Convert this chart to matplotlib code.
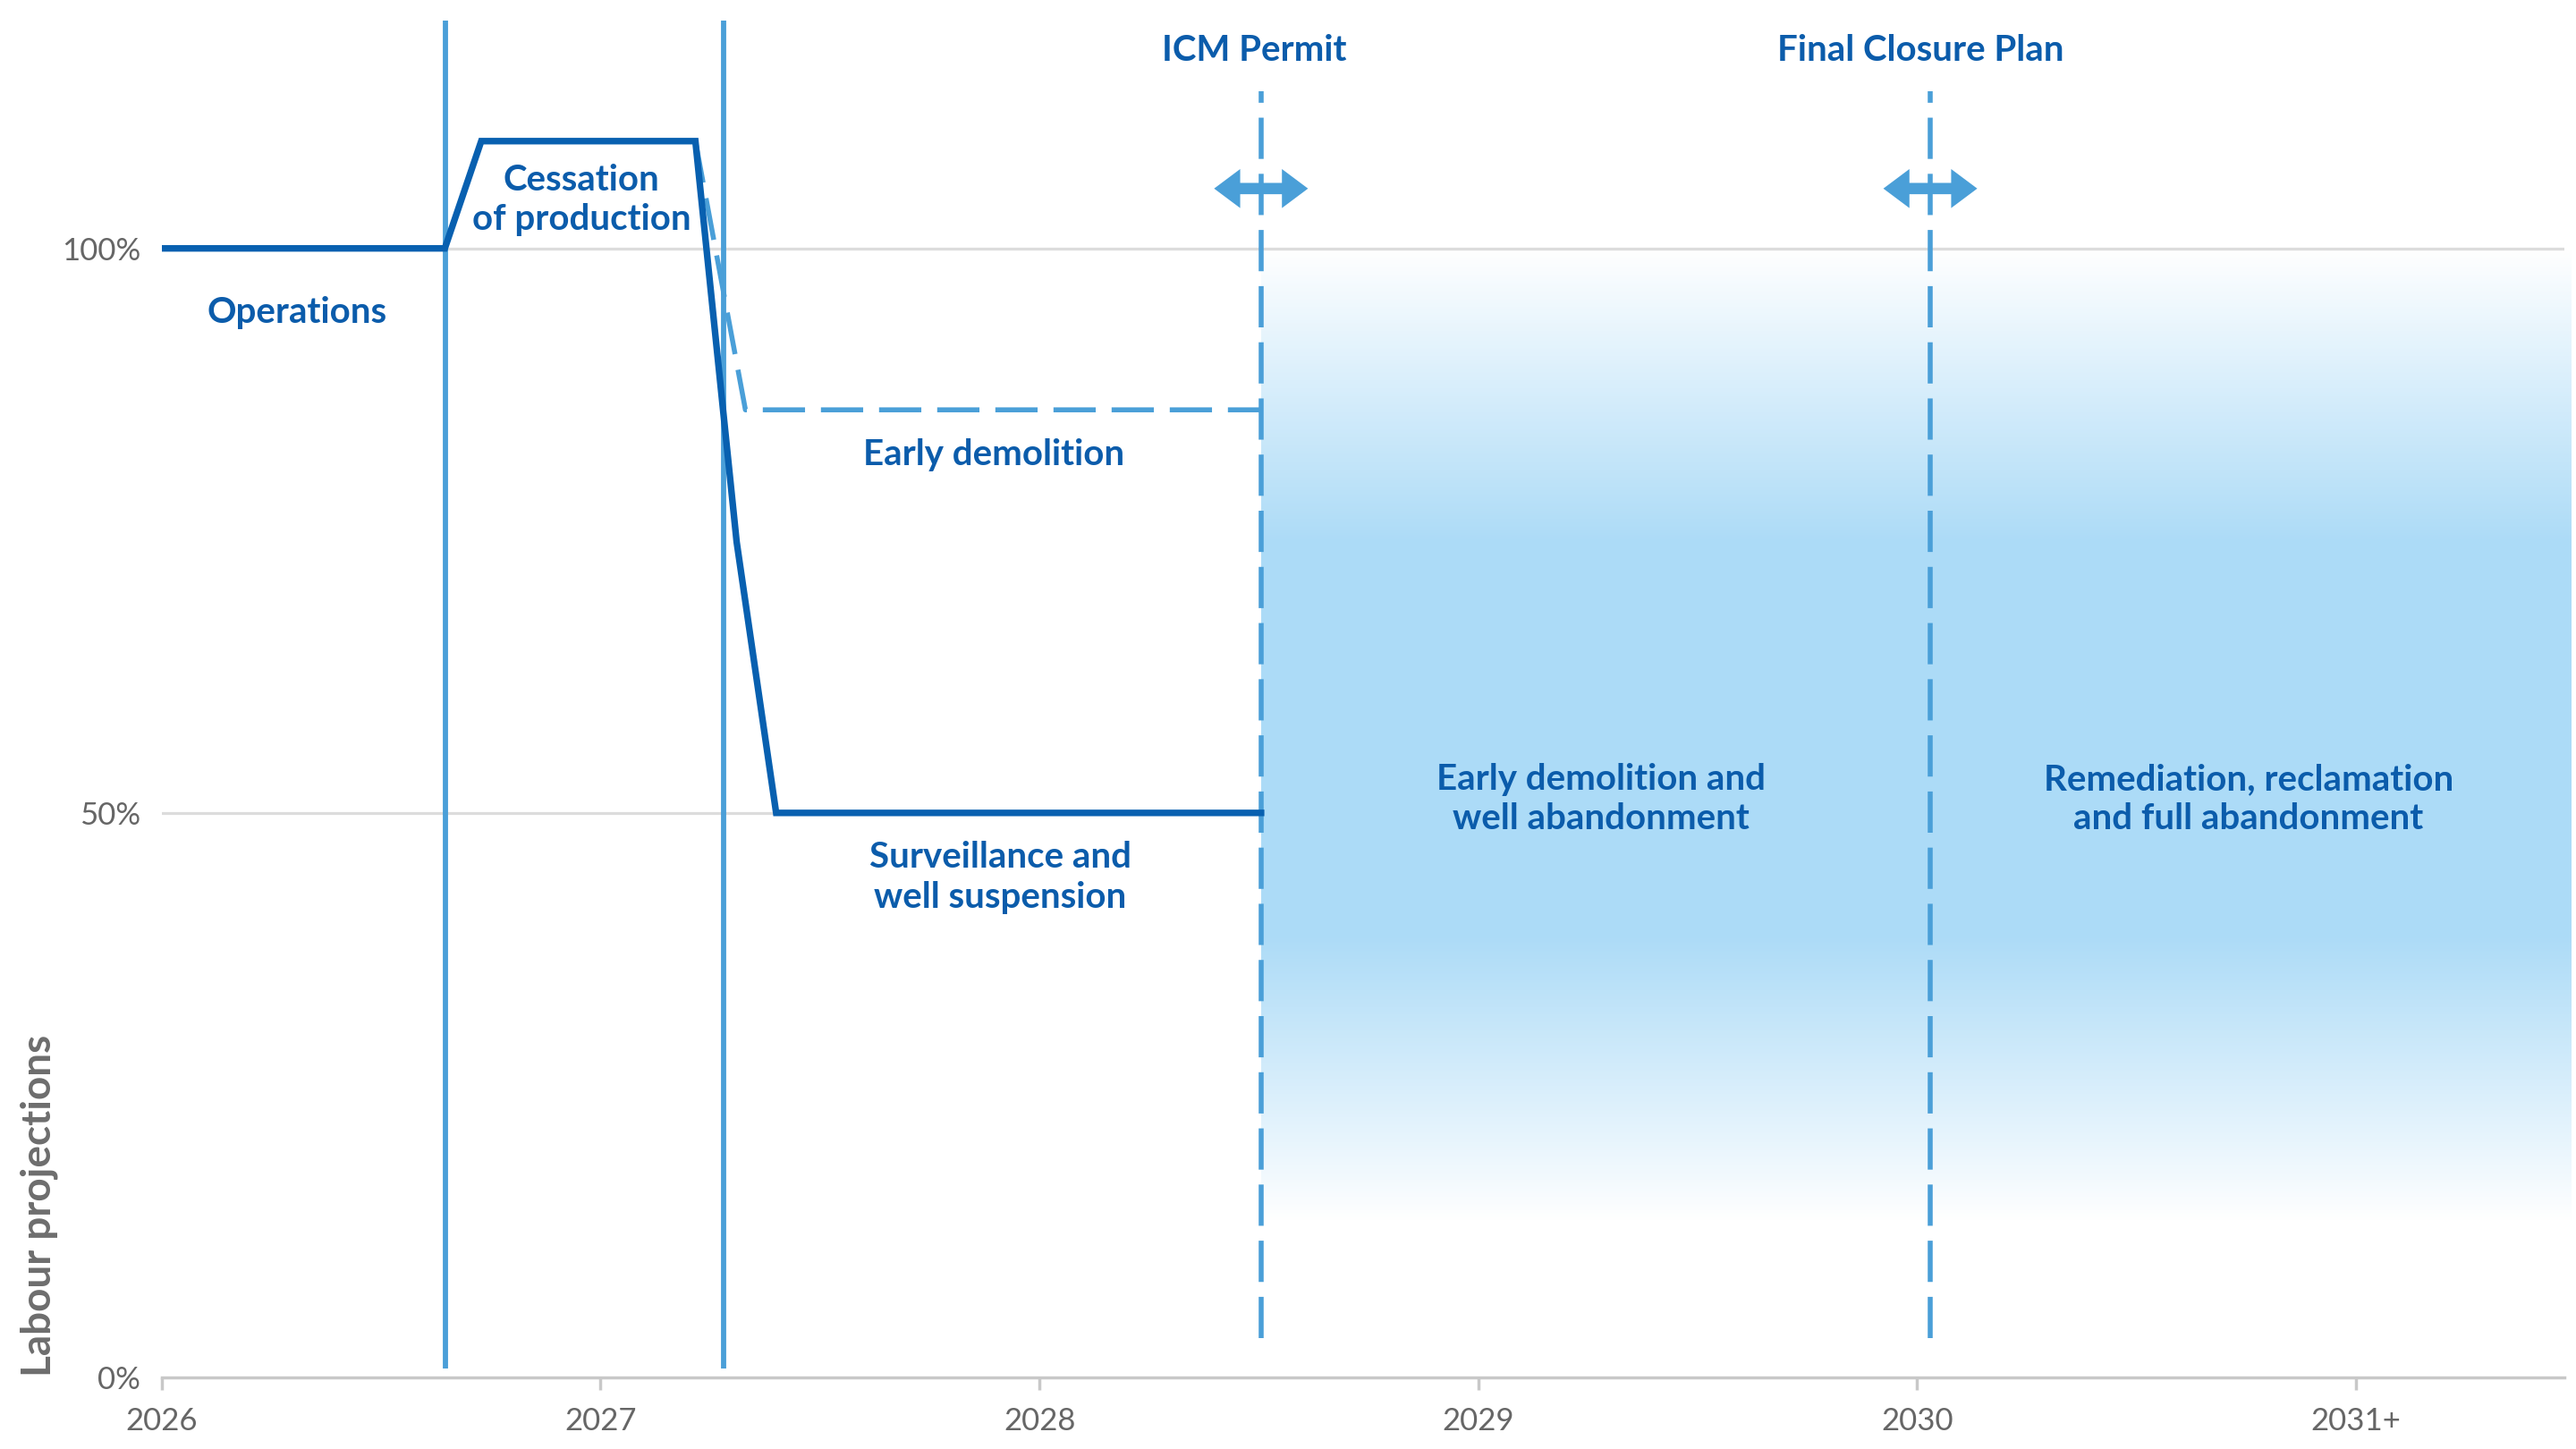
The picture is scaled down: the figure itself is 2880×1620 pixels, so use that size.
import numpy as np
import matplotlib
matplotlib.use('Agg')
import matplotlib.pyplot as plt
from matplotlib.patches import FancyArrowPatch

# data (x = years, y = % of labour)
main_x = [2026.0, 2026.645, 2026.728, 2027.216, 2027.31, 2027.40, 2028.505]
main_y = [100, 100, 109.5, 109.5, 74, 50, 50]
early_x = [2027.216, 2027.33, 2028.505]
early_y = [109.5, 85.7, 85.7]
phase_lines = [2026.647, 2027.28]
milestone_x = [2028.505, 2030.03]
milestone_names = ['ICM Permit', 'Final Closure Plan']
milestone_label_x = [2028.49, 2030.007]
year_ticks = [2026, 2027, 2028, 2029, 2030, 2031]
year_labels = ['2026', '2027', '2028', '2029', '2030', '2031+']
pct_ticks = [0, 50, 100]
pct_labels = ['0%', '50%', '100%']

labels = [
    ('Operations', 2026.309, 94.3),
    ('Cessation\nof production', 2026.956, 104.3),
    ('Early demolition', 2027.896, 81.7),
    ('Surveillance and\nwell suspension', 2027.911, 44.3),
    ('Early demolition and\nwell abandonment', 2029.28, 51.2),
    ('Remediation, reclamation\nand full abandonment', 2030.755, 51.2),
]

# shaded band
band_x = [2028.505, 2031.49]
band_stops_y = [13.7, 39, 74, 100]
band_stops_a = [0, 1, 1, 0]

dark_blue = '#0860b0'
text_blue = '#0b5cab'
light_blue = '#4a9fd8'
band_rgb = (0.675, 0.859, 0.969)
grey = '#666666'

fig = plt.figure(figsize=(28.8, 16.2), dpi=100)
ax = fig.add_axes([0.0628, 0.0494, 0.9327, 0.9506])
ax.set_xlim(2026, 2031.475)
ax.set_ylim(0, 122)

# gridlines
for g in [50, 100]:
    ax.axhline(g, color='#dcdcdc', lw=2.3, zorder=1)

# gradient band
ys = np.linspace(band_stops_y[0], band_stops_y[-1], 400)
alpha = np.interp(ys, band_stops_y, band_stops_a)
img = np.zeros((len(ys), 1, 4))
img[:, 0, :3] = band_rgb
img[:, 0, 3] = alpha
ax.imshow(img[::-1], extent=[band_x[0], band_x[1], band_stops_y[0], band_stops_y[-1]],
          aspect='auto', interpolation='bilinear', zorder=2, clip_on=False)

# phase separators
for px in phase_lines:
    ax.plot([px, px], [0.8, 120.2], color=light_blue, lw=4.2, zorder=3, solid_capstyle='butt')

# milestone dashed lines + arrows
for mx in milestone_x:
    ax.plot([mx, mx], [3.5, 113.9], color=light_blue, lw=4, dashes=(8.3, 3.0),
            zorder=4, dash_capstyle='butt')
    for d in [-0.107, 0.107]:
        arr = FancyArrowPatch((mx, 105.3), (mx + d, 105.3),
                              arrowstyle='simple,head_length=21,head_width=31.4,tail_width=9.1',
                              mutation_scale=1, shrinkA=0, shrinkB=0,
                              color=light_blue, lw=0, zorder=4)
        ax.add_patch(arr)

for name, lx in zip(milestone_names, milestone_label_x):
    ax.text(lx, 117.5, name, ha='center', va='center', fontsize=29,
            fontfamily='Lato', fontweight='bold', color=text_blue, zorder=6)

# early demolition scenario
ax.plot(early_x, early_y, color=light_blue, lw=4, dashes=(8.5, 3.2), zorder=4)
# main labour projection
ax.plot(main_x, main_y, color=dark_blue, lw=5.3, zorder=5, solid_joinstyle='miter')

for txt, lx, ly in labels:
    ax.text(lx, ly, txt, ha='center', va='center', fontsize=29, linespacing=1.25,
            fontfamily='Lato', fontweight='bold', color=text_blue, zorder=6)

# axes styling
for s in ['left', 'right', 'top']:
    ax.spines[s].set_visible(False)
ax.spines['bottom'].set_color('#c8c8c8')
ax.spines['bottom'].set_linewidth(2.5)
ax.set_xticks(year_ticks)
ax.set_xticklabels(year_labels)
ax.set_yticks(pct_ticks)
ax.set_yticklabels(pct_labels)
ax.tick_params(axis='x', length=10, width=2.5, color='#c8c8c8', pad=14)
ax.tick_params(axis='y', length=0, pad=17)
for lab in ax.get_xticklabels() + ax.get_yticklabels():
    lab.set_fontfamily('Lato')
    lab.set_fontweight('normal')
    lab.set_fontsize(25)
    lab.set_color(grey)

fig.text(44 / 2880, 1 - 1539 / 1620, 'Labour projections', rotation=90, ha='center', va='bottom',
         fontsize=33, fontfamily='Lato', fontweight='bold', color='#6d6d6d')

fig.savefig('out.png', dpi=100)
